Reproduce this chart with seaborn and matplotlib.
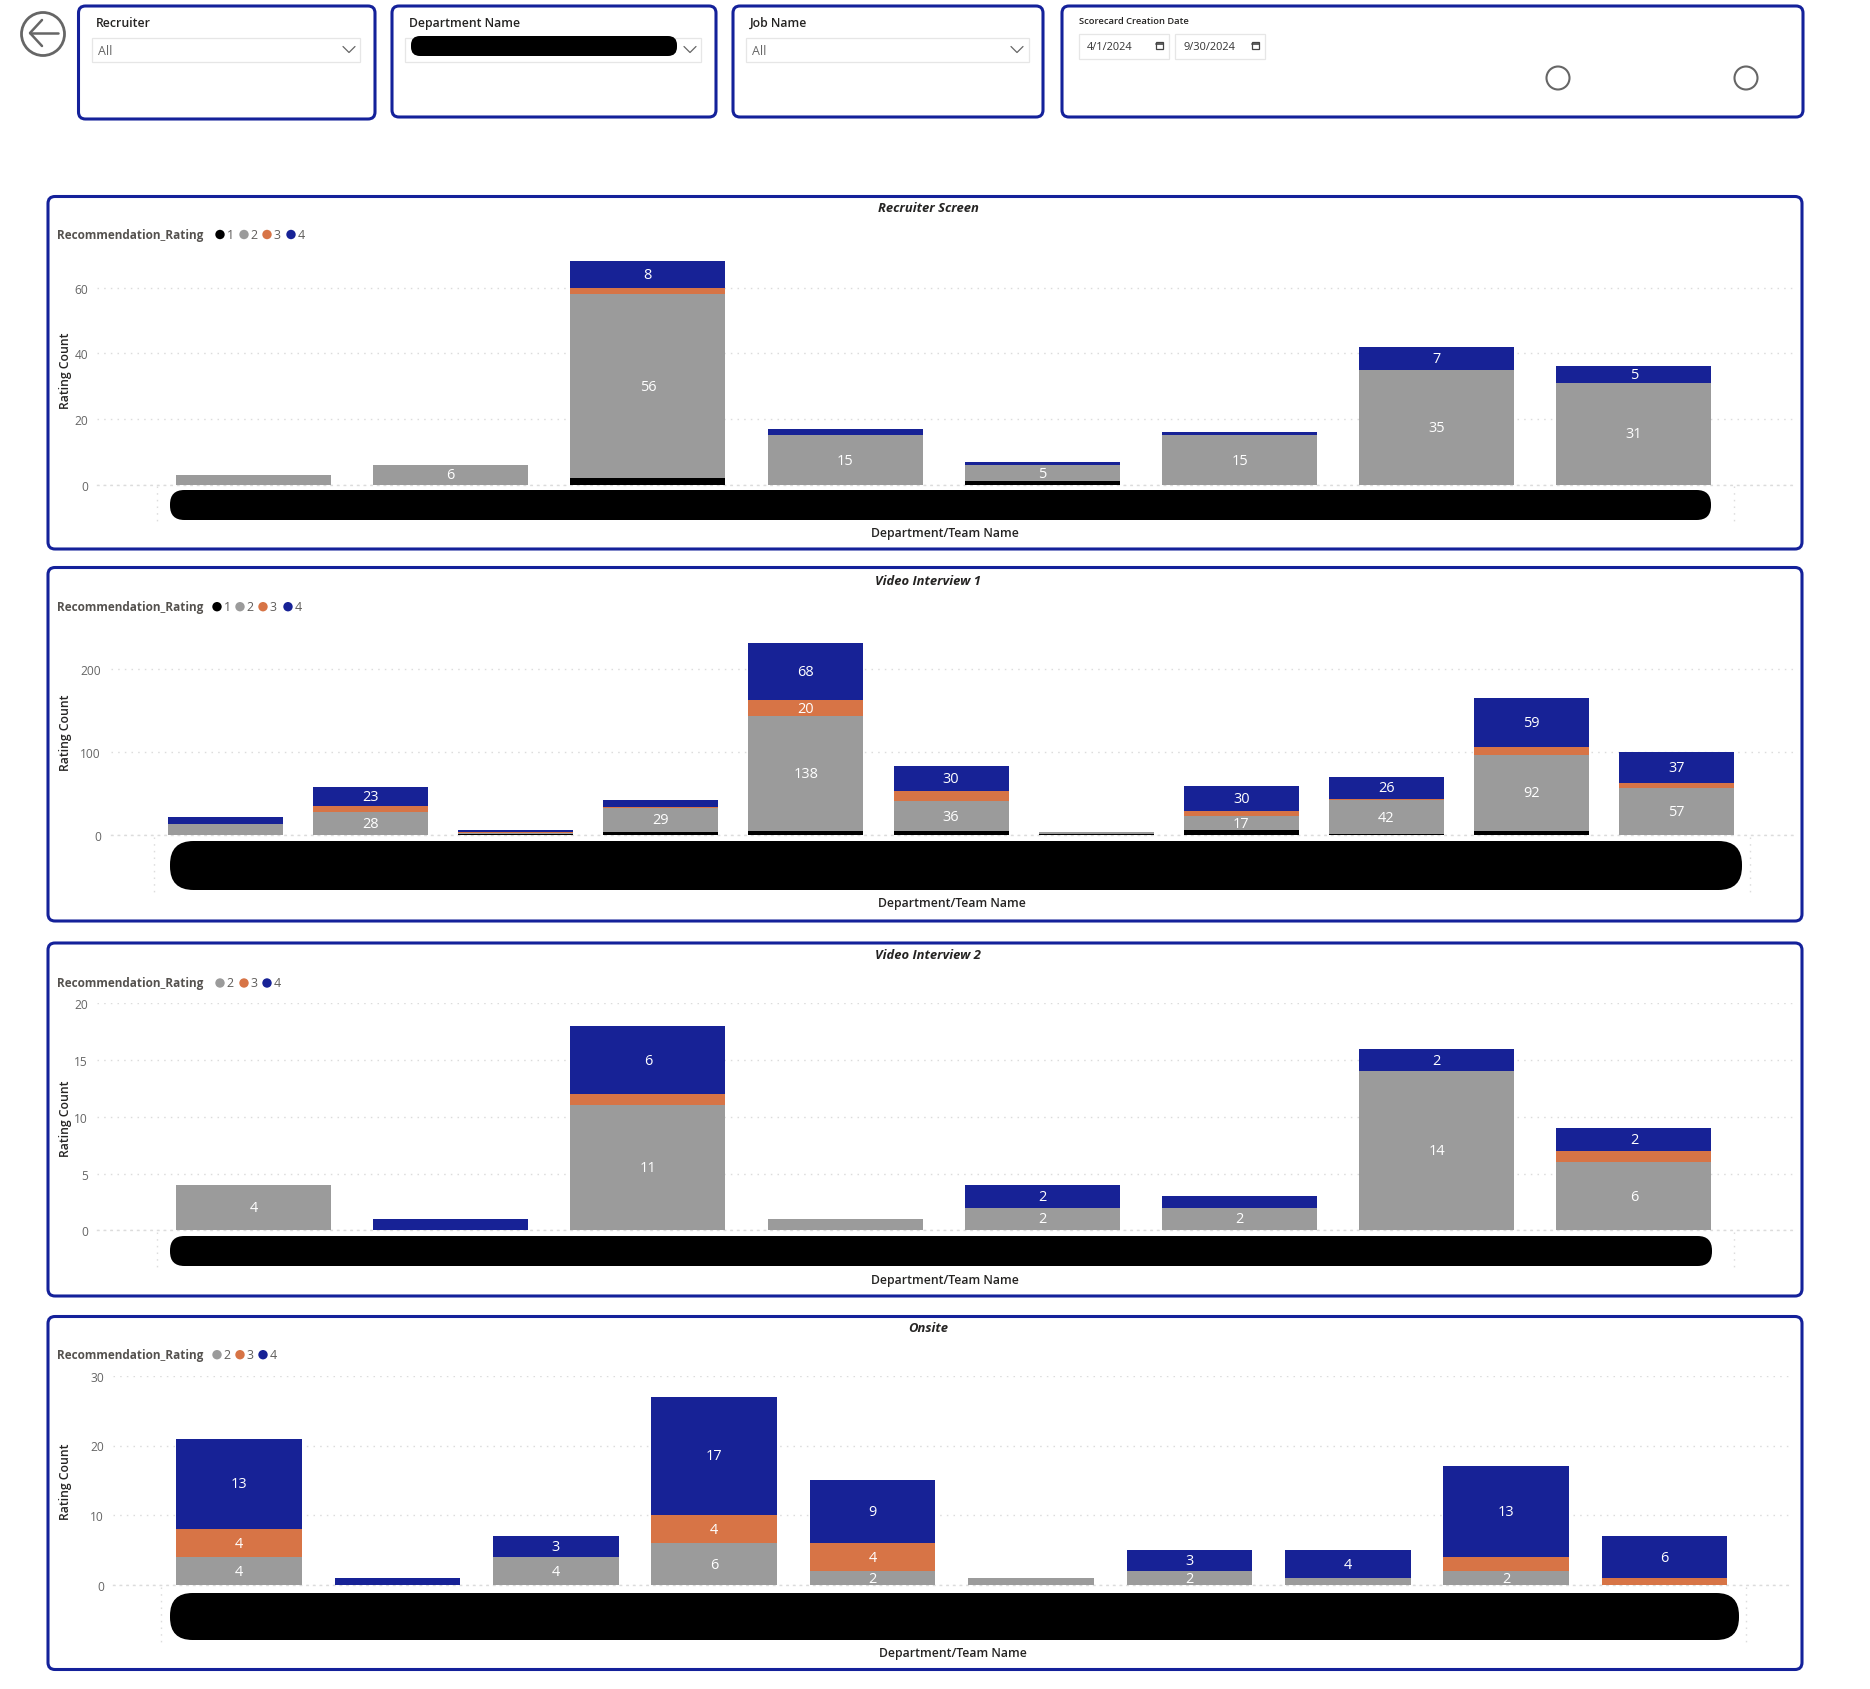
import matplotlib
matplotlib.use("Agg")
import matplotlib.pyplot as plt
from matplotlib.patches import FancyBboxPatch, Circle, Rectangle
import numpy as np
import seaborn as sns

# ---------- data ----------
rating_levels = ["1", "2", "3", "4"]

screen_teams = ["Team A", "Team B", "Team C", "Team D", "Team E", "Team F", "Team G", "Team H"]
screen_r1 = [0, 0, 2, 0, 1, 0, 0, 0]
screen_r2 = [3, 6, 56, 15, 5, 15, 35, 31]
screen_r3 = [0, 0, 2, 0, 0, 0, 0, 0]
screen_r4 = [0, 0, 8, 2, 1, 1, 7, 5]

video1_teams = ["Team A", "Team B", "Team C", "Team D", "Team E", "Team F", "Team G", "Team H", "Team I", "Team J", "Team K"]
video1_r1 = [0, 0, 1, 4, 5, 5, 1, 6, 1, 5, 0]
video1_r2 = [13, 28, 2, 29, 138, 36, 3, 17, 42, 92, 57]
video1_r3 = [1, 7, 1, 1, 20, 12, 0, 6, 1, 9, 6]
video1_r4 = [8, 23, 2, 8, 68, 30, 0, 30, 26, 59, 37]

video2_teams = ["Team A", "Team B", "Team C", "Team D", "Team E", "Team F", "Team G", "Team H"]
video2_r1 = [0, 0, 0, 0, 0, 0, 0, 0]
video2_r2 = [4, 0, 11, 1, 2, 2, 14, 6]
video2_r3 = [0, 0, 1, 0, 0, 0, 0, 1]
video2_r4 = [0, 1, 6, 0, 2, 1, 2, 2]

onsite_teams = ["Team A", "Team B", "Team C", "Team D", "Team E", "Team F", "Team G", "Team H", "Team I", "Team J"]
onsite_r1 = [0, 0, 0, 0, 0, 0, 0, 0, 0, 0]
onsite_r2 = [4, 0, 4, 6, 2, 1, 2, 1, 2, 0]
onsite_r3 = [4, 0, 0, 4, 4, 0, 0, 0, 2, 1]
onsite_r4 = [13, 1, 3, 17, 9, 0, 3, 4, 13, 6]

panel_titles = ["Recruiter Screen", "Video Interview 1", "Video Interview 2", "Onsite"]
y_ticks_screen = [0, 20, 40, 60]
y_ticks_video1 = [0, 100, 200]
y_ticks_video2 = [0, 5, 10, 15, 20]
y_ticks_onsite = [0, 10, 20, 30]

# ---------- style ----------
W, H = 1870, 1690
SHIFT = 1.0
AX_SHIFT = 0.3
BLACK, GRAY, ORANGE, BLUE = "#000000", "#9b9b9b", "#d77446", "#172296"
FRAME = "#14219a"
LEVEL_COLORS = {"1": BLACK, "2": GRAY, "3": ORANGE, "4": BLUE}
sns.set_theme(style="white")
FONT = ["Open Sans", "DejaVu Sans"]
plt.rcParams["font.family"] = FONT
pt = lambda px: px * 0.72

fig = plt.figure(figsize=(W / 100, H / 100), dpi=100, facecolor="white")
ov = fig.add_axes([0, 0, 1, 1], zorder=5)
ov.set_xlim(0, W)
ov.set_ylim(H - SHIFT, -SHIFT)
ov.axis("off")
ov.patch.set_alpha(0)


def round_box(x0, y0, x1, y1, r=7, fc="none", ec=FRAME, lw=2.2):
    ov.add_patch(FancyBboxPatch((x0, y0), x1 - x0, y1 - y0,
                                boxstyle=f"round,pad=0,rounding_size={r}",
                                fc=fc, ec=ec, lw=lw, mutation_aspect=1))


def label(x, y, s, px=12, color="#252423", ha="left", weight="normal", style="normal", rot=0):
    ov.text(x, y, s, fontsize=pt(px), color=color, ha=ha, va="center",
            fontweight=weight, fontstyle=style, rotation=rot)


def chevron(x, y):
    ov.plot([x - 6, x, x + 6], [y - 3, y + 3, y - 3], color="#666666", lw=0.9)


def dropdown(x0, x1, title, value, chev):
    label(x0 + 4, 22.5, title, px=12.3, weight="semibold")
    ov.add_patch(Rectangle((x0, 37.5), x1 - x0, 24, fc="white", ec="#e6e6e6", lw=0.9))
    if value:
        label(x0 + 6, 50.5, value, px=12.5, color="#666666")
    chevron(chev, 49.5)


# ---------- slicer row ----------
round_box(78.5, 6, 375, 119)
round_box(392, 6, 716, 117)
round_box(733, 6, 1043, 117)
round_box(1062, 6, 1803, 117)
dropdown(92, 360, "Recruiter", "All", 349)
dropdown(405, 701, "Department Name", "", 690)
ov.add_patch(FancyBboxPatch((411, 36), 266, 20, boxstyle="round,pad=0,rounding_size=9", fc="black", ec="none"))
dropdown(746, 1029, "Job Name", "All", 1017)

# back button
ov.add_patch(Circle((43, 34), 21.5, fc="none", ec="#666666", lw=2))
ov.plot([30, 58], [33, 33], color="#666666", lw=1.8)
ov.plot([42, 30, 42], [20, 33, 46], color="#666666", lw=1.8)

# date slicer
label(1079, 20.5, "Scorecard Creation Date", px=9.4, weight="semibold")
for x0, x1, txt in [(1079, 1169, "4/1/2024"), (1175, 1265, "9/30/2024")]:
    ov.add_patch(Rectangle((x0, 33.5), x1 - x0, 25, fc="white", ec="#e6e6e6", lw=0.9))
    label(x0 + 8, 47, txt, px=11, color="#333333")
    ov.add_patch(Rectangle((x1 - 13, 42), 7, 7, fc="none", ec="#444444", lw=0.9))
    ov.plot([x1 - 13, x1 - 6], [44, 44], color="#444444", lw=1.2)
for cx in (1558, 1746):
    ov.add_patch(Circle((cx, 78), 11.5, fc="none", ec="#666666", lw=1.5))

# ---------- chart panels ----------
panels = [
    dict(teams=screen_teams, vals=[screen_r1, screen_r2, screen_r3, screen_r4], ticks=y_ticks_screen,
         frame=(196.5, 549), base=485.4, tick_px=(60, 288.2), ymax=70, c0=253.5, step=197.2, bw=155,
         grid=(97, 1793), tick_right=88, bar=(170, 1711, 490, 520), vdot=(157, 1734, 522),
         legend_y=234.5, dots=[(220, "1"), (244, "2"), (267, "3"), (291, "4")], title_y=208,
         ylab=(65, 370), xlab=(945, 533), minlab=4, hide=[]),
    dict(teams=video1_teams, vals=[video1_r1, video1_r2, video1_r3, video1_r4], ticks=y_ticks_video1,
         frame=(567.5, 921), base=836, tick_px=(200, 669.7), ymax=235, c0=225.5, step=145.1, bw=115,
         grid=(111, 1794), tick_right=101, bar=(170, 1742, 841, 890), vdot=(154, 1750, 893),
         legend_y=606.7, dots=[(217, "1"), (240, "2"), (263, "3"), (288, "4")], title_y=581,
         ylab=(65, 732), xlab=(952, 903), minlab=17, hide=[]),
    dict(teams=video2_teams, vals=[video2_r1, video2_r2, video2_r3, video2_r4], ticks=y_ticks_video2,
         frame=(943, 1296), base=1231, tick_px=(20, 1004), ymax=20, c0=253.5, step=197.2, bw=155,
         grid=(97, 1793), tick_right=88, bar=(170, 1712, 1236, 1266), vdot=(157, 1734, 1270),
         legend_y=983, dots=[(220, "2"), (244, "3"), (267, "4")], title_y=955,
         ylab=(65, 1118), xlab=(945, 1280), minlab=2, hide=[]),
    dict(teams=onsite_teams, vals=[onsite_r1, onsite_r2, onsite_r3, onsite_r4], ticks=y_ticks_onsite,
         frame=(1316.5, 1669.5), base=1586, tick_px=(30, 1376.3), ymax=30, c0=239, step=158.4, bw=125.5,
         grid=(113, 1791), tick_right=104, bar=(170, 1739, 1593, 1640), vdot=(160.5, 1746, 1642),
         legend_y=1354.7, dots=[(217, "2"), (240, "3"), (263, "4")], title_y=1328,
         ylab=(65, 1481), xlab=(953, 1653), minlab=2, hide=[(2, 8)]),
]

for title, p in zip(panel_titles, panels):
    n = len(p["teams"])
    tick_val, tick_y = p["tick_px"]
    px_per_unit = (p["base"] - tick_y) / tick_val
    top_px = p["base"] - p["ymax"] * px_per_unit
    gs, ge = p["grid"]
    ax = fig.add_axes([gs / W, 1 - (p["base"] + AX_SHIFT) / H, (ge - gs) / W, (p["base"] - top_px) / H], zorder=2)
    ax.patch.set_alpha(0)

    vals = np.array(p["vals"], dtype=float)
    cum = vals.cumsum(axis=0)
    w = p["bw"] / p["step"]
    for lvl in range(3, -1, -1):
        sns.barplot(x=p["teams"], y=cum[lvl], order=p["teams"], color=LEVEL_COLORS[rating_levels[lvl]],
                    saturation=1, width=w, linewidth=0, errorbar=None, ax=ax, zorder=3)

    ax.set_xlim((gs - p["c0"]) / p["step"], (ge - p["c0"]) / p["step"])
    ax.set_ylim(0, p["ymax"])
    ax.set_yticks(p["ticks"])
    ax.set_yticklabels([str(t) for t in p["ticks"]], fontsize=pt(12), color="#666666")
    ax.set_xticks(range(n))
    ax.set_xticklabels([])
    ax.tick_params(axis="both", length=0, pad=(gs - p["tick_right"]) * 0.72)
    ax.set_axisbelow(True)
    ax.yaxis.grid(True, color="#dcdcdc", lw=1.0, linestyle=(0, (1.1, 3.7)))
    ax.xaxis.grid(False)
    sns.despine(ax=ax, left=True, bottom=True, top=True, right=True)
    ax.spines["bottom"].set_visible(True)
    ax.spines["bottom"].set_color("#dcdcdc")
    ax.spines["bottom"].set_linewidth(1.0)
    ax.spines["bottom"].set_linestyle((0, (1.1, 3.7)))

    ax.set_ylabel("Rating Count", fontsize=pt(12.3), fontweight="semibold", color="#252423")
    ax.yaxis.set_label_coords(p["ylab"][0], p["ylab"][1], transform=ov.transData)
    ax.set_xlabel("Department/Team Name", fontsize=pt(12.3), fontweight="semibold", color="#252423")
    ax.xaxis.set_label_coords(p["xlab"][0], p["xlab"][1], transform=ov.transData)
    ax.xaxis.label.set_va("center")
    ax.yaxis.label.set_va("center")

    # data labels
    for lvl in range(4):
        for i in range(n):
            v = vals[lvl, i]
            if v >= p["minlab"] and (lvl, i) not in p["hide"]:
                ax.text(i, cum[lvl, i] - v / 2, f"{int(v)}", color="white", fontsize=pt(14.5),
                        ha="center", va="center", zorder=6, clip_on=False)

    # frame, title, legend, redaction
    y0, y1 = p["frame"]
    round_box(48, y0, 1802, y1)
    label(928, p["title_y"], title, px=13, ha="center", weight="bold", style="italic")
    label(56.5, p["legend_y"], "Recommendation_Rating", px=11.8, color="#55524f", weight="bold")
    for dx, lv in p["dots"]:
        ov.add_patch(Circle((dx, p["legend_y"]), 4.7, fc=LEVEL_COLORS[lv], ec="none"))
        label(dx + 6.5, p["legend_y"], lv, px=12.5, color="#605e5c")
    bx0, bx1, by0, by1 = p["bar"]
    ov.add_patch(FancyBboxPatch((bx0, by0), bx1 - bx0, by1 - by0,
                                boxstyle=f"round,pad=0,rounding_size={(by1 - by0) * 0.48}", fc="black", ec="none"))
    vx0, vx1, vb = p["vdot"]
    for vx in (vx0, vx1):
        ov.plot([vx, vx], [p["base"] + 1, vb], color="#dcdcdc", lw=1.0, linestyle=(0, (1.1, 3.7)))

ov.set_xlim(0, W)
ov.set_ylim(H - SHIFT, -SHIFT)
fig.savefig("out.png", dpi=100, facecolor="white")
